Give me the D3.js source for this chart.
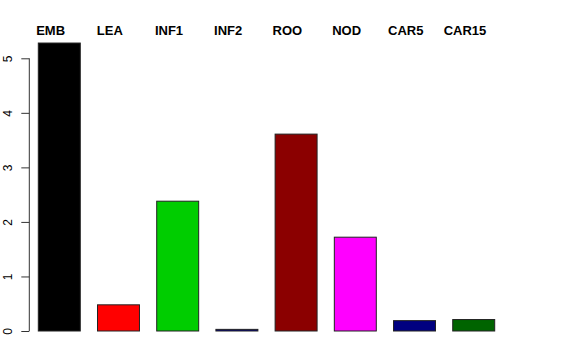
<!DOCTYPE html>
<html><head><meta charset="utf-8">
<script src="https://cdn.jsdelivr.net/npm/d3@7"></script>
<style>body{margin:0;background:#fff}svg{display:block}</style>
</head><body>
<script>
const categories = ["EMB","LEA","INF1","INF2","ROO","NOD","CAR5","CAR15"];
const values = [5.28, 0.48, 2.38, 0.03, 3.61, 1.72, 0.19, 0.21];
const colors = ["#000000","#FF0000","#00CD00","#000080","#8B0000","#FF00FF","#000080","#006400"];
const yTicks = [0,1,2,3,4,5];

const W = 576, H = 360;
const svg = d3.select("body").append("svg").attr("width", W).attr("height", H);

const x = d3.scaleBand().domain(categories).range([38.3, 494.7]).paddingInner(0.291).paddingOuter(0);
const y = d3.scaleLinear().domain([0,5]).range([331, 58.3]);

svg.append("g").selectAll("rect").data(categories).join("rect")
  .attr("x", d => x(d))
  .attr("y", (d,i) => y(values[i]))
  .attr("width", x.bandwidth())
  .attr("height", (d,i) => y(0) - y(values[i]))
  .attr("fill", (d,i) => colors[i])
  .attr("stroke", "#222")
  .attr("stroke-width", 1);

const yAxis = d3.axisLeft(y).tickValues(yTicks).tickSize(8).tickPadding(9).tickFormat(d3.format("d"));
const ga = svg.append("g").attr("transform", "translate(29.3,0)").call(yAxis);
ga.selectAll(".domain").attr("d", `M0,${y(0)}V${y(5)}`).attr("stroke", "#333");
ga.selectAll(".tick line").attr("stroke", "#333");
ga.selectAll(".tick text")
  .attr("font-family", "Liberation Sans, Arial, sans-serif")
  .attr("font-size", 12)
  .attr("fill", "#000")
  .attr("text-anchor", "middle")
  .attr("dy", null)
  .attr("x", null)
  .attr("transform", "translate(-17.5,0) rotate(-90)");

svg.append("g").selectAll("text").data(categories).join("text")
  .attr("x", d => x(d) + x.bandwidth()/2 - 8.7)
  .attr("y", 34.7)
  .attr("text-anchor", "middle")
  .attr("font-family", "Liberation Sans, Arial, sans-serif")
  .attr("font-weight", "bold")
  .attr("font-size", 13)
  .attr("fill", "#000")
  .text(d => d);
</script>
</body></html>
